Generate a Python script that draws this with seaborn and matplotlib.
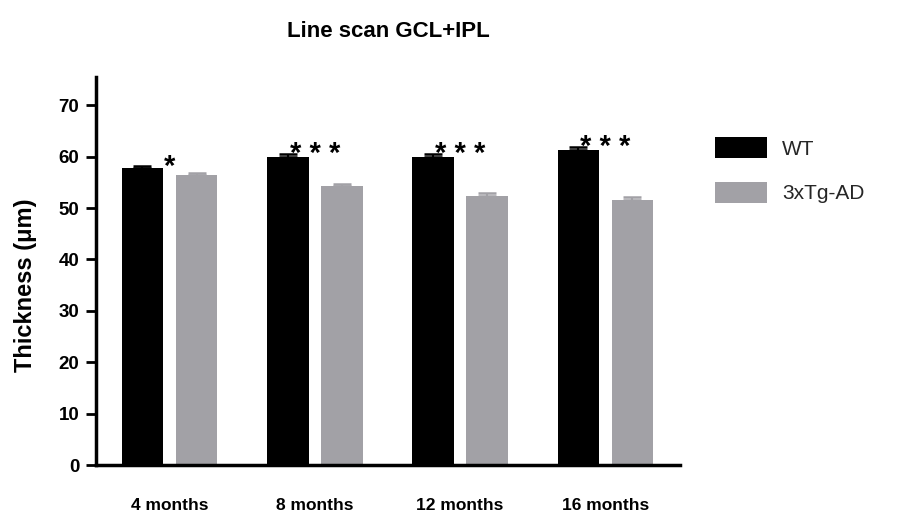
import numpy as np
import pandas as pd
import seaborn as sns
import matplotlib.pyplot as plt

# Retinal GCL+IPL thickness from line scans, mean and SEM per age
ages = ["4 months", "8 months", "12 months", "16 months"]
genotypes = ["WT", "3xTg-AD"]
wt_mean = [57.7, 60.0, 60.0, 61.3]
wt_sem = [0.4, 0.6, 0.6, 0.6]
tg_mean = [56.4, 54.3, 52.4, 51.6]
tg_sem = [0.4, 0.4, 0.5, 0.5]
significance = ["*", "***", "***", "***"]
y_ticks = [0, 10, 20, 30, 40, 50, 60, 70]

sns.set_theme(style="white")
plt.rcParams["font.family"] = ["Liberation Sans", "DejaVu Sans"]

df = pd.DataFrame({
    "age": ages * 2,
    "genotype": [genotypes[0]] * len(ages) + [genotypes[1]] * len(ages),
    "thickness": wt_mean + tg_mean,
})
palette = {"WT": "#000000", "3xTg-AD": "#a2a1a6"}

W, H = 904, 520
fig = plt.figure(figsize=(W / 100, H / 100), dpi=100)
ax = fig.add_axes([96 / W, 1 - 465 / H, (680 - 96) / W, (465 - 77) / H])

sns.barplot(data=df, x="age", y="thickness", hue="genotype", order=ages,
            hue_order=genotypes, palette=palette, width=0.744, gap=0.23,
            errorbar=None, saturation=1, linewidth=0, ax=ax)

# one-sided SEM caps in the bar colour
for container, means, sems, g in zip(ax.containers, [wt_mean, tg_mean],
                                     [wt_sem, tg_sem], genotypes):
    xs = [b.get_x() + b.get_width() / 2 for b in container]
    ax.errorbar(xs, means, yerr=[np.zeros(len(sems)), sems], fmt="none",
                ecolor=palette[g], elinewidth=1.5, capsize=6.5, capthick=1.8,
                zorder=3)

# significance markers above each age group
for i, s in enumerate(significance):
    ax.annotate(" ".join(s), xy=(i, wt_mean[i] + wt_sem[i]), xytext=(0, -6),
                textcoords="offset points", ha="center", va="baseline",
                fontsize=21, fontweight="bold", color="black")

ax.set_xlim(-0.506, 3.513)
ax.set_ylim(0, 75.5)
ax.set_yticks(y_ticks)
ax.set_xlabel("")
ax.set_ylabel("Thickness (μm)", fontsize=17, fontweight="bold", color="black")
ax.yaxis.set_label_coords(-0.101, 0.464)

for side in ["top", "right"]:
    ax.spines[side].set_visible(False)
for side in ["left", "bottom"]:
    ax.spines[side].set_linewidth(2.5)
    ax.spines[side].set_color("black")

ax.tick_params(axis="y", length=7, width=2, direction="out", color="black",
               labelsize=13.5, pad=5, left=True)
ax.tick_params(axis="x", length=0, labelsize=12.5, pad=24)
for lab in ax.get_yticklabels() + ax.get_xticklabels():
    lab.set_fontweight("bold")
    lab.set_color("black")

ax.set_title("Line scan GCL+IPL", fontsize=16, fontweight="bold", pad=29,
             color="black")

handles, labels = ax.get_legend_handles_labels()
ax.legend(handles, labels, loc="upper left",
          bbox_to_anchor=(715 / W, 1 - 137 / H), bbox_transform=fig.transFigure,
          frameon=False, fontsize=15, handlelength=2.5, handleheight=1.2,
          handletextpad=0.72, labelspacing=1.1, borderpad=0, borderaxespad=0)

fig.savefig("out.png", dpi=100)
